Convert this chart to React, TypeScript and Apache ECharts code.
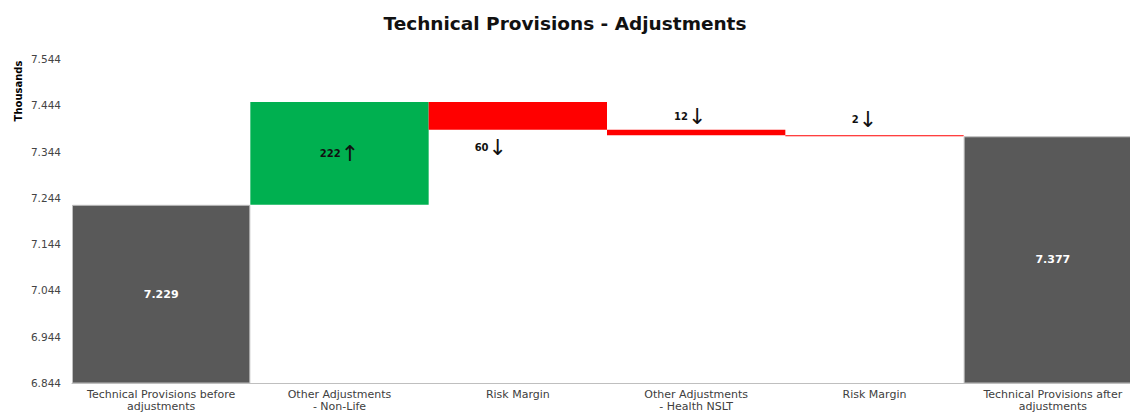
import React, { useEffect, useRef } from "react";
import * as echarts from "echarts";

const categories = [
  "Technical Provisions before\nadjustments",
  "Other Adjustments\n- Non-Life",
  "Risk Margin",
  "Other Adjustments\n- Health NSLT",
  "Risk Margin",
  "Technical Provisions after\nadjustments",
];
const startValue = 7229;
const changes = [222, -60, -12, -2];
const endValue = 7377;
const yMin = 6844;
const yMax = 7544;
const yStep = 100;

const GRAY = "#595959";
const GREEN = "#00B050";
const RED = "#FF0000";
const FONT = "DejaVu Sans";

export default function App() {
  const ref = useRef<HTMLDivElement>(null);
  useEffect(() => {
    document.body.style.margin = "0";
    if (!ref.current) return;
    const chart = echarts.init(ref.current, null, { renderer: "svg" });

    const n = categories.length;
    const helper: any[] = new Array(n).fill("-");
    const totals: any[] = new Array(n).fill("-");
    const ups: any[] = new Array(n).fill("-");
    const downs: any[] = new Array(n).fill("-");
    totals[0] = startValue;
    totals[n - 1] = endValue;
    helper[0] = 0;
    helper[n - 1] = 0;
    let running = startValue;
    const downPos = ["bottom", "top", "top"];
    const downOffset = [[-27, 0], [-6, 0], [-10, 0]];
    const downDist = [7, 2, 5];
    let di = 0;
    changes.forEach((c, i) => {
      const idx = i + 1;
      if (c >= 0) {
        helper[idx] = running;
        ups[idx] = {
          value: c,
          label: {
            show: true,
            position: "inside",
            formatter: `{n|${c}}{a|↑}`,
          },
        };
      } else {
        helper[idx] = running + c;
        const k = di++;
        downs[idx] = {
          value: -c,
          label: {
            show: true,
            position: downPos[k] || "top",
            distance: downDist[k] ?? 2,
            offset: downOffset[k] || [0, 0],
            formatter: `{n|${-c}}{a|↓}`,
          },
        };
      }
      running += c;
    });

    const rich = {
      n: { fontFamily: FONT, fontSize: 10, fontWeight: "bold", color: "#111" },
      a: { fontFamily: FONT, fontSize: 22, color: "#111" },
    };

    chart.setOption({
      animation: false,
      title: {
        text: "Technical Provisions - Adjustments",
        left: "center",
        top: 9,
        textStyle: { fontFamily: FONT, fontSize: 18.5, fontWeight: "bold", color: "#111" },
      },
      grid: { left: 72, top: 59, bottom: 31, width: 1070, outerBoundsMode: "none" },
      xAxis: {
        type: "category",
        data: categories,
        axisLine: { lineStyle: { color: "#BFBFBF" } },
        axisTick: { show: false },
        axisLabel: {
          interval: 0,
          fontFamily: FONT,
          fontSize: 11,
          color: "#404040",
          lineHeight: 12,
          margin: 5,
        },
      },
      yAxis: {
        type: "value",
        min: yMin,
        max: yMax,
        interval: yStep,
        splitLine: { show: false },
        axisLine: { show: false },
        axisTick: { show: false },
        axisLabel: {
          margin: 11,
          fontFamily: FONT,
          fontSize: 10.5,
          color: "#444",
          formatter: (v: number) => (v / 1000).toFixed(3),
        },
      },
      graphic: [
        {
          type: "text",
          x: 18,
          y: 91,
          rotation: Math.PI / 2,
          style: {
            text: "Thousands",
            fontFamily: FONT,
            fontSize: 10,
            fontWeight: "bold",
            fill: "#000",
            textAlign: "center",
            textVerticalAlign: "middle",
          },
        },
      ],
      series: [
        {
          type: "bar",
          stack: "w",
          data: helper,
          barCategoryGap: "0%",
          itemStyle: { color: "transparent" },
          emphasis: { disabled: true },
          silent: true,
        },
        {
          type: "bar",
          stack: "w",
          data: totals,
          barCategoryGap: "0%",
          itemStyle: { color: GRAY, borderColor: "#BFBFBF", borderWidth: 1 },
          label: {
            show: true,
            position: "inside",
            color: "#fff",
            fontFamily: FONT,
            fontSize: 11,
            fontWeight: "bold",
            formatter: (p: any) => (p.value / 1000).toFixed(3),
          },
        },
        {
          type: "bar",
          stack: "w",
          data: ups,
          barCategoryGap: "0%",
          itemStyle: { color: GREEN },
          label: { rich },
        },
        {
          type: "bar",
          stack: "w",
          data: downs,
          barCategoryGap: "0%",
          itemStyle: { color: RED },
          label: { rich },
        },
      ],
    });
    return () => chart.dispose();
  }, []);
  return <div ref={ref} style={{ width: 1130, height: 414 }} />;
}
